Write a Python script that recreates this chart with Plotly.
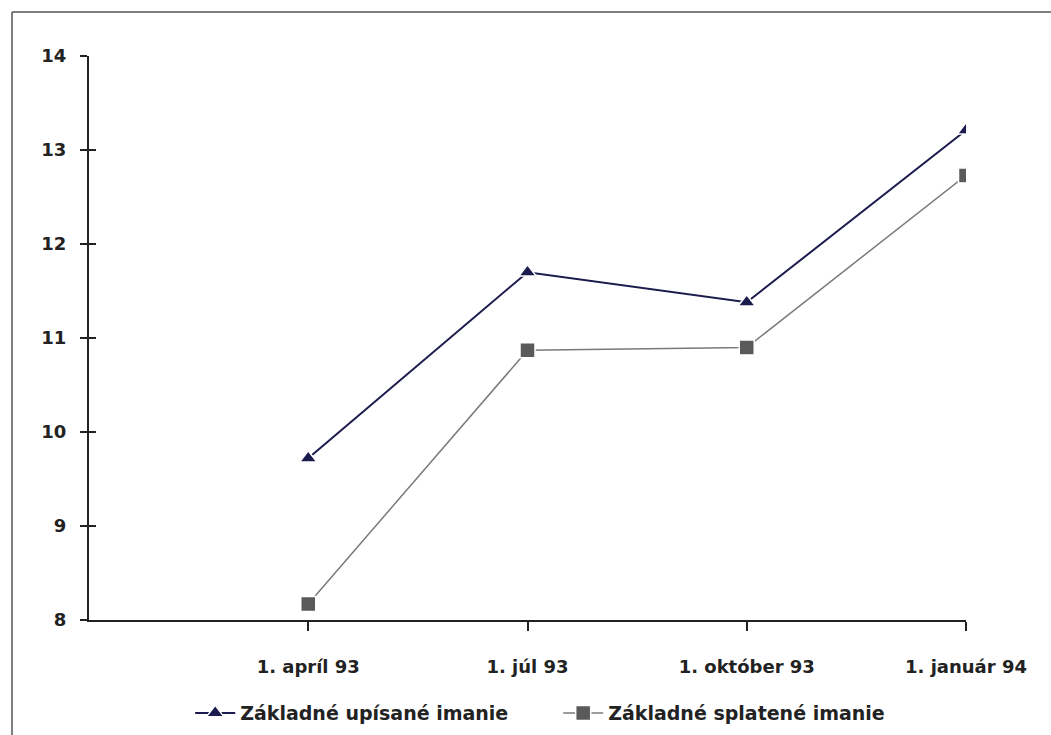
import plotly.graph_objects as go

categories = ["1. apríl 93", "1. júl 93", "1. október 93", "1. január 94"]
upisane = [9.72, 11.70, 11.38, 13.21]
splatene = [8.17, 10.87, 10.90, 12.73]
series_names = ["Základné upísané imanie", "Základné splatené imanie"]
y_ticks = [8, 9, 10, 11, 12, 13, 14]

W, H = 1051, 735
ML, MR, MT, MB = 89, 85, 56, 115
pw, ph = W - ML - MR, H - MT - MB

xpos = list(range(1, len(categories) + 1))
FONT = "DejaVu Sans, sans-serif"

fig = go.Figure()
fig.add_trace(go.Scatter(
    x=xpos, y=upisane, name=series_names[0], mode="lines+markers",
    line=dict(color="#1b1b4d", width=2),
    marker=dict(symbol="triangle-up", size=15, color="#1b1b4d", line=dict(color="white", width=1.5)),
))
fig.add_trace(go.Scatter(
    x=xpos, y=splatene, name=series_names[1], mode="lines+markers",
    line=dict(color="#7a7a7a", width=1.5),
    marker=dict(symbol="square", size=15, color="#5a5a5a", line=dict(color="white", width=1.5)),
))

axis_font = dict(family=FONT, size=18, color="#222222", weight="bold")

fig.update_layout(
    width=W, height=H,
    margin=dict(l=ML, r=MR, t=MT, b=MB, autoexpand=False),
    paper_bgcolor="white", plot_bgcolor="white",
    showlegend=True,
    legend=dict(orientation="h", x=0.535, xanchor="center", y=-0.165, yanchor="middle",
                font=dict(family=FONT, size=19, color="#222222", weight="bold"),
                itemwidth=40, tracegroupgap=0, entrywidthmode="pixels", entrywidth=313),
    xaxis=dict(range=[0, 4], tickvals=xpos, ticktext=categories,
               showgrid=False, zeroline=False, showline=True, linecolor="#222222", linewidth=2,
               ticks="outside", ticklen=9, tickwidth=2, tickcolor="#222222",
               tickfont=axis_font, ticklabelstandoff=20),
    yaxis=dict(range=[8, 14], tickvals=y_ticks,
               showgrid=False, zeroline=False, showline=True, linecolor="#222222", linewidth=2,
               ticks="outside", ticklen=7, tickwidth=2, tickcolor="#222222",
               tickfont=axis_font, ticklabelstandoff=10),
    yaxis2=dict(range=[8, 14], tickvals=y_ticks, overlaying="y", side="left",
                showgrid=False, zeroline=False, showline=False, showticklabels=False,
                ticks="inside", ticklen=7, tickwidth=2, tickcolor="#222222"),
)

# invisible trace to activate the overlay axis with inside ticks (crossing ticks)
fig.add_trace(go.Scatter(x=[None], y=[None], yaxis="y2", showlegend=False, hoverinfo="skip"))

# outer frame (top and left edges visible)
fx0 = (12 - ML) / pw
fy1 = (H - MB - 12) / ph
fig.add_shape(type="line", xref="paper", yref="paper", x0=fx0, x1=(W + 20 - ML) / pw, y0=fy1, y1=fy1,
              line=dict(color="#555555", width=1.5))
fig.add_shape(type="line", xref="paper", yref="paper", x0=fx0, x1=fx0, y0=fy1, y1=-(MB + 20) / ph,
              line=dict(color="#555555", width=1.5))

fig.write_html("out.html", config={"displayModeBar": False},
               post_script="document.body.style.margin='0';")
